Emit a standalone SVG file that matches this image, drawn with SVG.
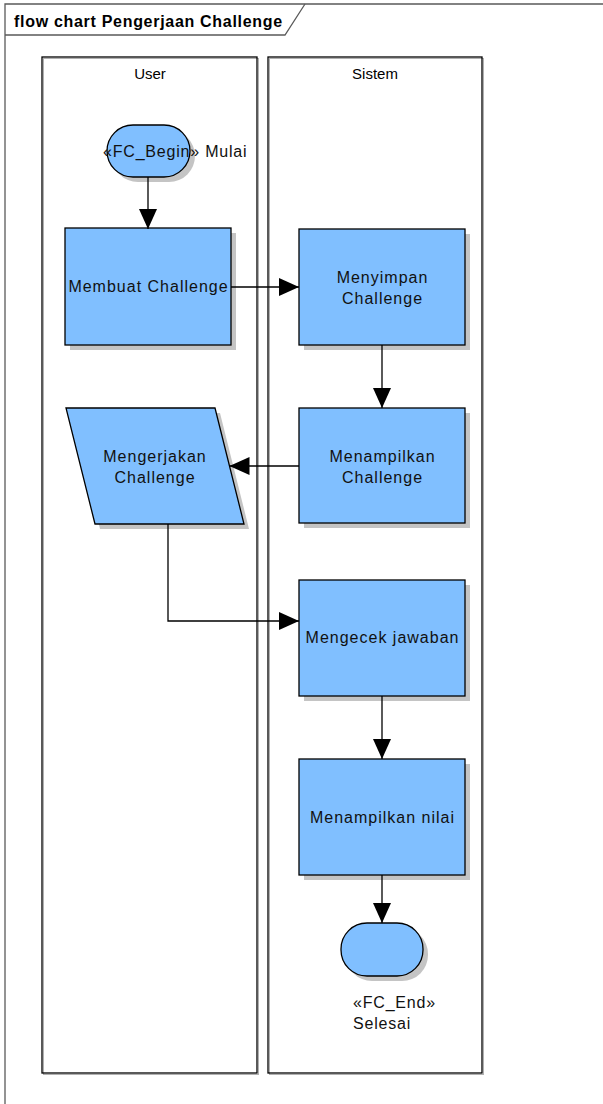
<svg xmlns="http://www.w3.org/2000/svg" width="603" height="1104" viewBox="0 0 603 1104">
  <style>
    .frame { fill: none; stroke: #5a5a5a; stroke-width: 1.3; }
    .lane { fill: none; stroke: #000; stroke-width: 1.3; }
    .lane-sh { fill: none; stroke: #b0b0b0; stroke-width: 1; }
    .shape { fill: #80bfff; stroke: #000; stroke-width: 1.3; }
    .shadow { fill: #c4c4c4; stroke: none; }
    .conn { fill: none; stroke: #000; stroke-width: 1.3; marker-end: url(#arrow); }
    .title { font-family: "Liberation Sans", Arial, sans-serif; font-size: 16px; font-weight: bold; letter-spacing: 0.7px; fill: #000; }
    .hdr { font-family: "Liberation Sans", Arial, sans-serif; font-size: 15px; fill: #000; text-anchor: middle; }
    .lbl { font-family: "Liberation Sans", Arial, sans-serif; font-size: 16px; letter-spacing: 1px; fill: #111; text-anchor: middle; }
    .note { font-family: "Liberation Sans", Arial, sans-serif; font-size: 16px; letter-spacing: 0.8px; fill: #111; }
  </style>
  <defs>
    <marker id="arrow" viewBox="0 0 20 18" refX="20" refY="9" markerWidth="20" markerHeight="18" markerUnits="userSpaceOnUse" orient="auto">
      <path d="M0,0 L20,9 L0,18 Z" fill="#000"/>
    </marker>
  </defs>

  <rect width="603" height="1104" fill="#fff"/>

  <!-- diagram frame with title tab -->
  <g id="frame">
    <path class="frame" d="M5,1104 V4 H603"/>
    <path class="frame" d="M5,35 H285 L305,4"/>
    <text class="title" x="14" y="27">flow chart Pengerjaan Challenge</text>
  </g>

  <!-- swimlanes -->
  <g id="lane-user">
    <rect class="lane-sh" x="43.5" y="58.5" width="215" height="1016"/>
    <rect class="lane" x="42" y="57" width="215" height="1016"/>
    <text class="hdr" x="150" y="79">User</text>
  </g>
  <g id="lane-sistem">
    <rect class="lane-sh" x="269.5" y="58.5" width="214" height="1016"/>
    <rect class="lane" x="268" y="57" width="214" height="1016"/>
    <text class="hdr" x="375" y="79">Sistem</text>
  </g>

  <!-- nodes -->
  <g id="node-mulai">
    <rect class="shadow" x="112" y="130" width="83" height="52" rx="26"/>
    <rect class="shape" x="107" y="125" width="83" height="52" rx="26"/>
    <text class="note" x="103" y="157">«FC_Begin» Mulai</text>
  </g>

  <g id="node-membuat">
    <rect class="shadow" x="70" y="233" width="166" height="117"/>
    <rect class="shape" x="65" y="228" width="166" height="117"/>
    <text class="lbl" x="148.5" y="292">Membuat Challenge</text>
  </g>

  <g id="node-menyimpan">
    <rect class="shadow" x="304" y="234" width="166" height="116"/>
    <rect class="shape" x="299" y="229" width="166" height="116"/>
    <text class="lbl" x="382.5" y="283">Menyimpan</text>
    <text class="lbl" x="382.5" y="304">Challenge</text>
  </g>

  <g id="node-menampilkan-challenge">
    <rect class="shadow" x="304" y="413" width="166" height="115"/>
    <rect class="shape" x="299" y="408" width="166" height="115"/>
    <text class="lbl" x="382.5" y="462">Menampilkan</text>
    <text class="lbl" x="382.5" y="483">Challenge</text>
  </g>

  <g id="node-mengerjakan">
    <polygon class="shadow" points="71,413 220,413 249,529 100,529"/>
    <polygon class="shape" points="66,408 215,408 244,524 95,524"/>
    <text class="lbl" x="155" y="462">Mengerjakan</text>
    <text class="lbl" x="155" y="483">Challenge</text>
  </g>

  <g id="node-mengecek">
    <rect class="shadow" x="304" y="585" width="166" height="116"/>
    <rect class="shape" x="299" y="580" width="166" height="116"/>
    <text class="lbl" x="382.5" y="643">Mengecek jawaban</text>
  </g>

  <g id="node-menampilkan-nilai">
    <rect class="shadow" x="304" y="764" width="166" height="116"/>
    <rect class="shape" x="299" y="759" width="166" height="116"/>
    <text class="lbl" x="382.5" y="823">Menampilkan nilai</text>
  </g>

  <g id="node-selesai">
    <rect class="shadow" x="346" y="928" width="82" height="53" rx="26"/>
    <rect class="shape" x="341" y="923" width="82" height="53" rx="26"/>
    <text class="note" x="353" y="1008">«FC_End»</text>
    <text class="note" x="353" y="1029">Selesai</text>
  </g>

  <!-- connectors, drawn over the node shadows -->
  <g id="connectors">
    <path class="conn" d="M148,177 V229"/>
    <path class="conn" d="M231,287 H299"/>
    <path class="conn" d="M382,345 V408"/>
    <path class="conn" d="M299,466 H229.5"/>
    <path class="conn" d="M168,524 V621 H299"/>
    <path class="conn" d="M382,696 V759"/>
    <path class="conn" d="M382,875 V923"/>
  </g>
</svg>
